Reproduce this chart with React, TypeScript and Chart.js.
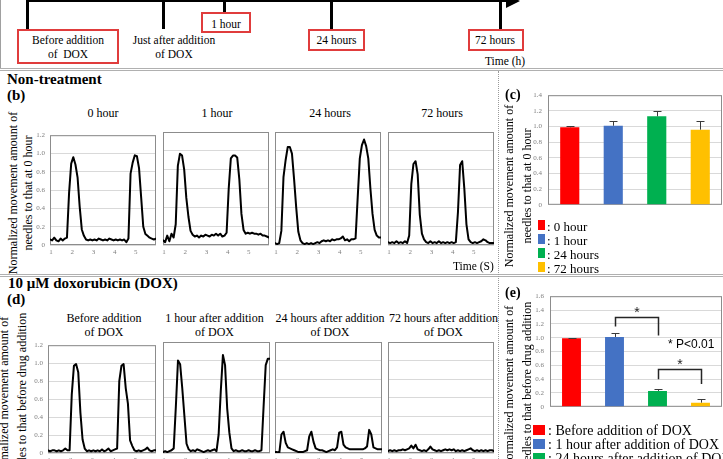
import React, { useEffect, useRef } from "react";
import { Chart, registerables } from "chart.js";

Chart.register(...registerables);

const SERIF = '"Liberation Serif", "Times New Roman", serif';
const SANS = '"Liberation Sans", Arial, sans-serif';
Chart.defaults.font.family = SERIF;

// ---------------- data ----------------
const timeS = [
  0.95, 1.05, 1.15, 1.25, 1.35, 1.45, 1.55, 1.65, 1.75, 1.85, 1.95, 2.05, 2.15, 2.25, 2.35, 2.45, 2.55,
  2.65, 2.75, 2.85, 2.95, 3.05, 3.15, 3.25, 3.35, 3.45, 3.55, 3.65, 3.75, 3.85, 3.95, 4.05, 4.15, 4.25,
  4.35, 4.45, 4.55, 4.65, 4.75, 4.85, 4.95, 5.05, 5.15, 5.25, 5.35, 5.45, 5.55, 5.65, 5.75, 5.85, 5.95,
];
const xTickValues = [1, 2, 3, 4, 5];

const ntTitles = ["0 hour", "1 hour", "24 hours", "72 hours"];
const nt0h = [
  0.06, 0.05, 0.08, 0.05, 0.04, 0.07, 0.05, 0.07, 0.08, 0.57, 0.89, 0.96, 0.88, 0.74, 0.42, 0.17, 0.1,
  0.06, 0.05, 0.06, 0.05, 0.06, 0.05, 0.07, 0.06, 0.05, 0.06, 0.05, 0.07, 0.06, 0.05, 0.06, 0.05, 0.06,
  0.05, 0.06, 0.03, 0.07, 0.78, 0.9, 0.98, 0.97, 0.84, 0.52, 0.2, 0.12, 0.1, 0.08, 0.07, 0.06, 0.07,
];
const nt1h = [
  0.05, 0.03, 0.1, 0.04, 0.12, 0.08, 0.22, 0.84, 0.97, 0.95, 0.8, 0.5, 0.3, 0.15, 0.11, 0.09, 0.1,
  0.08, 0.1, 0.09, 0.11, 0.1, 0.09, 0.11, 0.1, 0.12, 0.1, 0.12, 0.09, 0.1, 0.13, 0.6, 0.92, 0.95,
  0.95, 0.93, 0.7, 0.33, 0.16, 0.12, 0.13, 0.12, 0.13, 0.12, 0.12, 0.11, 0.12, 0.1, 0.1, 0.09, 0.08,
];
const nt24h = [
  0.02, 0.01, 0.02, 0.15, 0.72, 0.9, 1.04, 1.04, 0.97, 0.7, 0.4, 0.14, 0.05, 0.02, 0.01, 0.02, 0.01,
  0.02, 0.01, 0.02, 0.03, 0.02, 0.04, 0.05, 0.04, 0.05, 0.04, 0.06, 0.05, 0.06, 0.06, 0.07, 0.09, 0.05,
  0.06, 0.04, 0.06, 0.06, 0.07, 0.5, 0.92, 1.06, 1.12, 1.05, 0.92, 0.6, 0.33, 0.16, 0.1, 0.08, 0.08,
];
const nt72h = [
  0.03, 0.02, 0.03, 0.02, 0.04, 0.02, 0.03, 0.02, 0.04, 0.02, 0.1, 0.65, 0.86, 0.89, 0.75, 0.32, 0.12,
  0.06, 0.03, 0.02, 0.04, 0.02, 0.03, 0.02, 0.04, 0.02, 0.03, 0.02, 0.03, 0.02, 0.03, 0.02, 0.03, 0.35,
  0.85, 0.89, 0.6, 0.22, 0.06, 0.03, 0.02, 0.03, 0.02, 0.03, 0.04, 0.06, 0.05, 0.03, 0.02, 0.02, 0.02,
];

const doxTitles = [
  "Before addition\nof DOX",
  "1 hour after addition\nof DOX",
  "24 hours after addition\nof DOX",
  "72 hours after addition\nof DOX",
];
const doxBefore = [
  0.03, 0.02, 0.03, 0.03, 0.02, 0.03, 0.02, 0.03, 0.05, 0.03, 0.03, 0.65, 0.97, 0.99, 0.9, 0.45, 0.15,
  0.05, 0.02, 0.03, 0.02, 0.03, 0.02, 0.03, 0.02, 0.04, 0.02, 0.03, 0.05, 0.02, 0.03, 0.04, 0.05, 0.8,
  0.97, 0.99, 0.72, 0.55, 0.14, 0.08, 0.03, 0.02, 0.03, 0.02, 0.03, 0.04, 0.06, 0.03, 0.02, 0.03, 0.03,
];
const dox1h = [
  0.01, 0.02, 0.01, 0.02, 0.03, 0.05, 0.5, 1.0, 0.96, 0.7, 0.4, 0.1, 0.04, 0.02, 0.03, 0.02, 0.04,
  0.03, 0.02, 0.01, 0.02, 0.03, 0.02, 0.03, 0.04, 0.02, 0.2, 0.67, 1.06, 0.95, 0.48, 0.22, 0.05, 0.02,
  0.03, 0.02, 0.02, 0.03, 0.02, 0.02, 0.03, 0.02, 0.02, 0.03, 0.02, 0.02, 0.03, 0.5, 0.95, 1.02, 1.02,
];
const dox24h = [
  0.01, 0.01, 0.0, 0.2, 0.23, 0.11, 0.06, 0.05, 0.04, 0.03, 0.02, 0.01, 0.01, 0.01, 0.02, 0.03, 0.18,
  0.23, 0.12, 0.05, 0.04, 0.03, 0.03, 0.02, 0.01, 0.02, 0.03, 0.04, 0.03, 0.06, 0.22, 0.23, 0.09, 0.06,
  0.05, 0.04, 0.04, 0.04, 0.04, 0.04, 0.04, 0.04, 0.05, 0.07, 0.25, 0.2, 0.06, 0.05, 0.04, 0.04, 0.04,
];
const dox72h = [
  0.02, 0.03, 0.02, 0.03, 0.02, 0.03, 0.03, 0.04, 0.03, 0.04, 0.05, 0.08, 0.05, 0.09, 0.04, 0.03, 0.02,
  0.03, 0.02, 0.04, 0.07, 0.04, 0.03, 0.02, 0.03, 0.02, 0.03, 0.04, 0.03, 0.04, 0.03, 0.04, 0.02, 0.03,
  0.02, 0.03, 0.02, 0.03, 0.04, 0.05, 0.03, 0.02, 0.03, 0.02, 0.03, 0.02, 0.03, 0.02, 0.03, 0.03, 0.02,
];

const cLabels = ["0 hour", "1 hour", "24 hours", "72 hours"];
const cMeans = [0.99, 1.01, 1.13, 0.96];
const cErrors = [0.02, 0.06, 0.07, 0.11];

const eLabels = [
  "Before addition of DOX",
  "1 hour after addition of DOX",
  "24 hours after addition of DOX",
  "72 hours after addition of DOX",
];
const eMeans = [0.99, 1.01, 0.23, 0.06];
const eErrors = [0.01, 0.06, 0.03, 0.05];

const barColors = ["#FF0000", "#4472C4", "#00B050", "#FFC000"];

const sigFrom = [1, 2];
const sigTo = [2, 3];
const sigTop = [1.3, 0.54];
const sigFromEnd = [1.16, 0.4];
const sigToEnd = [1.03, 0.33];
const sigNote = "* P<0.01";

// ---------------- plugins ----------------
const boxBorderPlugin = {
  id: "boxBorder",
  beforeDatasetsDraw(chart: any) {
    const { ctx, chartArea: a } = chart;
    ctx.save();
    ctx.strokeStyle = "#8c8c8c";
    ctx.lineWidth = 1;
    ctx.strokeRect(a.left + 0.5, a.top + 0.5, a.right - a.left - 1, a.bottom - a.top - 1);
    ctx.restore();
  },
};

function errorBarPlugin(errors: number[]) {
  return {
    id: "errorBars",
    afterDatasetsDraw(chart: any) {
      const { ctx } = chart;
      const y = chart.scales.y;
      const meta = chart.getDatasetMeta(0);
      const vals = chart.data.datasets[0].data as number[];
      ctx.save();
      ctx.strokeStyle = "#3a3a3a";
      ctx.lineWidth = 1;
      meta.data.forEach((bar: any, i: number) => {
        const x = Math.round(bar.x) + 0.5;
        const y0 = y.getPixelForValue(vals[i]);
        const y1 = Math.round(y.getPixelForValue(vals[i] + errors[i])) + 0.5;
        ctx.beginPath();
        ctx.moveTo(x, y0);
        ctx.lineTo(x, y1);
        ctx.moveTo(x - 4, y1);
        ctx.lineTo(x + 4, y1);
        ctx.stroke();
      });
      ctx.restore();
    },
  };
}

const bracketPlugin = {
  id: "sigBrackets",
  afterDatasetsDraw(chart: any) {
    const { ctx } = chart;
    const x = chart.scales.x;
    const y = chart.scales.y;
    ctx.save();
    ctx.strokeStyle = "#262626";
    ctx.fillStyle = "#262626";
    ctx.lineWidth = 1.5;
    ctx.font = `14px ${SANS}`;
    ctx.textAlign = "center";
    ctx.textBaseline = "alphabetic";
    sigFrom.forEach((a, k) => {
      const xa = Math.round(x.getPixelForValue(a)) + 0.5;
      const xb = Math.round(x.getPixelForValue(sigTo[k])) + 0.5;
      const yt = Math.round(y.getPixelForValue(sigTop[k])) + 0.5;
      const ya = y.getPixelForValue(sigFromEnd[k]);
      const yb = y.getPixelForValue(sigToEnd[k]);
      ctx.beginPath();
      ctx.moveTo(xa, ya);
      ctx.lineTo(xa, yt);
      ctx.lineTo(xb, yt);
      ctx.lineTo(xb, yb);
      ctx.stroke();
      ctx.fillText("*", (xa + xb) / 2, yt - 1);
    });
    ctx.restore();
  },
};

// ---------------- chart configs ----------------
const TR = { L: 22, T: 6, R: 2, B: 14 };
const tickFont = { size: 7, family: SERIF };
const tickColor = "#7f7f7f";

function traceConfig(values: number[], showY: boolean) {
  return {
    type: "line",
    data: {
      datasets: [
        {
          data: timeS.map((t, i) => ({ x: t, y: values[i] })),
          borderColor: "#000",
          borderWidth: 2,
          pointRadius: 0,
          tension: 0,
          borderJoinStyle: "round",
          borderCapStyle: "round",
        },
      ],
    },
    options: {
      responsive: false,
      animation: false,
      events: [],
      layout: { padding: { top: TR.T, right: TR.R, left: 0, bottom: 0 } },
      plugins: { legend: { display: false }, tooltip: { enabled: false } },
      scales: {
        x: {
          type: "linear",
          min: 0.95,
          max: 5.95,
          afterBuildTicks: (s: any) => {
            s.ticks = xTickValues.map((v) => ({ value: v }));
          },
          afterFit: (s: any) => {
            s.height = TR.B;
          },
          grid: { display: false, drawTicks: false },
          border: { display: false },
          ticks: { color: tickColor, font: tickFont, padding: 3, autoSkip: false, maxRotation: 0 },
        },
        y: {
          min: 0,
          max: 1.2,
          afterFit: (s: any) => {
            s.width = TR.L;
          },
          grid: { color: "#d9d9d9", drawTicks: false },
          border: { display: false },
          ticks: { display: showY, stepSize: 0.2, color: tickColor, font: tickFont, padding: 5 },
        },
      },
    },
    plugins: [boxBorderPlugin],
  };
}

const BR = { L: 30, T: 8, R: 1, B: 2 };
function barConfig(labels: string[], values: number[], errors: number[], yMax: number, withBrackets: boolean) {
  const plugins: any[] = [boxBorderPlugin, errorBarPlugin(errors)];
  if (withBrackets) plugins.push(bracketPlugin);
  return {
    type: "bar",
    data: {
      labels,
      datasets: [
        {
          data: values,
          backgroundColor: barColors,
          barPercentage: 0.44,
          categoryPercentage: 1,
        },
      ],
    },
    options: {
      responsive: false,
      animation: false,
      events: [],
      layout: { padding: { top: BR.T, right: BR.R, left: 0, bottom: BR.B } },
      plugins: { legend: { display: false }, tooltip: { enabled: false } },
      scales: {
        x: {
          ticks: { display: false },
          grid: { display: false, drawTicks: false },
          border: { display: false },
          afterFit: (s: any) => {
            s.height = 0;
          },
        },
        y: {
          min: 0,
          max: yMax,
          afterFit: (s: any) => {
            s.width = BR.L;
          },
          grid: { color: "#d9d9d9", drawTicks: false },
          border: { display: false },
          ticks: { stepSize: 0.2, color: tickColor, font: tickFont, padding: 6 },
        },
      },
    },
    plugins,
  };
}

// ---------------- components ----------------
function ChartCanvas(props: { left: number; top: number; width: number; height: number; make: () => any }) {
  const ref = useRef<HTMLCanvasElement | null>(null);
  useEffect(() => {
    if (!ref.current) return;
    const chart = new Chart(ref.current, props.make());
    return () => chart.destroy();
  }, []);
  return (
    <canvas
      ref={ref}
      width={props.width}
      height={props.height}
      style={{ position: "absolute", left: props.left, top: props.top, width: props.width, height: props.height }}
    />
  );
}

function Trace(props: { left: number; top: number; w: number; h: number; values: number[]; showY: boolean }) {
  return (
    <ChartCanvas
      left={props.left - TR.L}
      top={props.top - TR.T}
      width={props.w + TR.L + TR.R}
      height={props.h + TR.T + TR.B}
      make={() => traceConfig(props.values, props.showY)}
    />
  );
}

function Txt(props: {
  x: number;
  y: number;
  size?: number;
  lh?: number;
  bold?: boolean;
  center?: boolean;
  w?: number;
  family?: string;
  children: any;
}) {
  const size = props.size ?? 12;
  const w = props.w ?? 240;
  const style: any = {
    position: "absolute",
    top: props.y,
    fontSize: size,
    lineHeight: (props.lh ?? size) + "px",
    fontWeight: props.bold ? 700 : 400,
    fontFamily: props.family ?? SERIF,
    whiteSpace: "pre",
  };
  if (props.center) {
    style.left = props.x - w / 2;
    style.width = w;
    style.textAlign = "center";
  } else {
    style.left = props.x;
  }
  return <div style={style}>{props.children}</div>;
}

function VTitle(props: { cx: number; cy: number; lh: number; text: string }) {
  return (
    <div
      style={{
        position: "absolute",
        left: props.cx,
        top: props.cy,
        transform: "translate(-50%, -50%) rotate(-90deg)",
        fontSize: 12,
        lineHeight: props.lh + "px",
        textAlign: "center",
        whiteSpace: "pre",
        fontFamily: SERIF,
      }}
    >
      {props.text}
    </div>
  );
}

function Rect(props: { l: number; t: number; w: number; h: number; style?: any }) {
  return (
    <div
      style={{ position: "absolute", left: props.l, top: props.t, width: props.w, height: props.h, boxSizing: "border-box", ...(props.style || {}) }}
    />
  );
}

const RED = "#e03c3c";
const B_LEFTS = [50, 163, 275, 388];
const B_W = 106;
const B_TOP = 132;
const B_H = 113;
const B_TITLE_X = [103, 217, 330, 442];
const D_LEFTS = [48, 163, 275, 388];
const D_WS = [108, 107, 107, 106];
const D_TOP = 342;
const D_H = 111;
const D_TITLE_X = [104, 214.5, 330, 443.5];

export default function App() {
  const ntSeries = [nt0h, nt1h, nt24h, nt72h];
  const doxSeries = [doxBefore, dox1h, dox24h, dox72h];
  const cLegendTops = [220, 234, 248, 262];
  const eLegendTops = [425, 439, 453, 467];
  return (
    <div
      style={{
        position: "absolute",
        left: 0,
        top: 0,
        width: 723,
        height: 459,
        overflow: "hidden",
        background: "#fff",
        fontFamily: SERIF,
        color: "#000",
      }}
    >
      {/* frame lines */}
      <Rect l={0} t={0} w={1} h={69} style={{ background: "#a0a0a0" }} />
      <Rect l={0} t={68} w={723} h={1} style={{ background: "#b0b0b0" }} />
      <Rect l={0} t={70} w={723} h={1} style={{ background: "#b0b0b0" }} />
      <Rect l={0} t={274} w={723} h={1} style={{ background: "#b0b0b0" }} />
      <Rect l={0} t={276} w={723} h={1} style={{ background: "#b0b0b0" }} />
      <Rect l={498} t={71} w={1} h={388} style={{ borderLeft: "1px dotted #9a9a9a" }} />

      {/* timeline */}
      <Rect l={27} t={0} w={482} h={2} style={{ background: "#000" }} />
      <div
        style={{
          position: "absolute",
          left: 506,
          top: -6,
          width: 0,
          height: 0,
          borderLeft: "14px solid #000",
          borderTop: "7px solid transparent",
          borderBottom: "7px solid transparent",
        }}
      />
      <Rect l={26} t={0} w={3} h={29} style={{ background: "#000" }} />
      <Rect l={162} t={0} w={3} h={29} style={{ background: "#000" }} />
      <Rect l={223} t={0} w={3} h={12} style={{ background: "#000" }} />
      <Rect l={330} t={0} w={3} h={29} style={{ background: "#000" }} />
      <Rect l={499} t={0} w={3} h={29} style={{ background: "#000" }} />
      <Rect l={17} t={29} w={102} h={35} style={{ border: `2px solid ${RED}` }} />
      <Rect l={201} t={12} w={50} h={21} style={{ border: `2px solid ${RED}` }} />
      <Rect l={308} t={29} w={57} h={22} style={{ border: `2px solid ${RED}` }} />
      <Rect l={468} t={29} w={56} h={22} style={{ border: `2px solid ${RED}` }} />
      <Txt x={68} y={33.1} size={11.5} lh={14} center>
        {"Before addition\nof  DOX"}
      </Txt>
      <Txt x={174} y={33.1} size={11.5} lh={14} center>
        {"Just after addition\nof DOX"}
      </Txt>
      <Txt x={226} y={17.1} size={11.5} lh={14} center>
        1 hour
      </Txt>
      <Txt x={336.5} y={33.1} size={11.5} lh={14} center>
        24 hours
      </Txt>
      <Txt x={495} y={33.1} size={11.5} lh={14} center>
        72 hours
      </Txt>
      <Txt x={485} y={56.4} size={11.5}>
        Time (h)
      </Txt>

      {/* panel b */}
      <Txt x={7} y={72.4} size={15} bold>
        Non-treatment
      </Txt>
      <Txt x={7} y={88} size={15} bold>
        (b)
      </Txt>
      <VTitle cx={20.5} cy={193} lh={15} text={"Normalized movement amount of\nneedles to that at 0 hour"} />
      {ntTitles.map((t, i) => (
        <Txt key={"bt" + i} x={B_TITLE_X[i]} y={106.3} size={12} lh={14} center>
          {t}
        </Txt>
      ))}
      {ntSeries.map((s, i) => (
        <Trace key={"b" + i} left={B_LEFTS[i]} top={B_TOP} w={B_W} h={B_H} values={s} showY={i === 0} />
      ))}
      <Txt x={453} y={260.9} size={11.5}>
        Time (S)
      </Txt>

      {/* panel c */}
      <Txt x={505} y={87.5} size={14} bold>
        (c)
      </Txt>
      <VTitle cx={518} cy={186} lh={18} text={"Normalized movement amount of\nneedles to that at 0 hour"} />
      <ChartCanvas
        left={548 - BR.L}
        top={93 - BR.T}
        width={174 + BR.L + BR.R}
        height={120 + BR.T + BR.B}
        make={() => barConfig(cLabels, cMeans, cErrors, 1.4, false)}
      />
      {cLabels.map((lab, i) => (
        <React.Fragment key={"cl" + i}>
          <Rect l={538} t={cLegendTops[i]} w={7} h={10} style={{ background: barColors[i] }} />
          <Txt x={547} y={cLegendTops[i] - 0.4} size={13}>
            {": " + lab}
          </Txt>
        </React.Fragment>
      ))}

      {/* panel d */}
      <Txt x={8} y={276.4} size={15} bold>
        10 μM doxorubicin (DOX)
      </Txt>
      <Txt x={7} y={292} size={15} bold>
        (d)
      </Txt>
      <VTitle cx={12.5} cy={398} lh={18} text={"Normalized movement amount of\nneedles to that before drug addition"} />
      {doxTitles.map((t, i) => (
        <Txt key={"dt" + i} x={D_TITLE_X[i]} y={310.7} size={12} lh={14} center>
          {t}
        </Txt>
      ))}
      {doxSeries.map((s, i) => (
        <Trace key={"d" + i} left={D_LEFTS[i]} top={D_TOP} w={D_WS[i]} h={D_H} values={s} showY={i === 0} />
      ))}

      {/* panel e */}
      <Txt x={505} y={285.8} size={14} bold>
        (e)
      </Txt>
      <VTitle cx={518} cy={387} lh={18} text={"Normalized movement amount of\nneedles to that before drug addition"} />
      <ChartCanvas
        left={550 - BR.L}
        top={294 - BR.T}
        width={172 + BR.L + BR.R}
        height={121 + BR.T + BR.B}
        make={() => barConfig(eLabels, eMeans, eErrors, 1.6, true)}
      />
      <Txt x={668} y={338} size={12} family={SANS}>
        {sigNote}
      </Txt>
      {eLabels.map((lab, i) => (
        <React.Fragment key={"el" + i}>
          <Rect l={533} t={eLegendTops[i]} w={12} h={10} style={{ background: barColors[i] }} />
          <Txt x={548} y={eLegendTops[i] - 1} size={14}>
            {": " + lab}
          </Txt>
        </React.Fragment>
      ))}
    </div>
  );
}
